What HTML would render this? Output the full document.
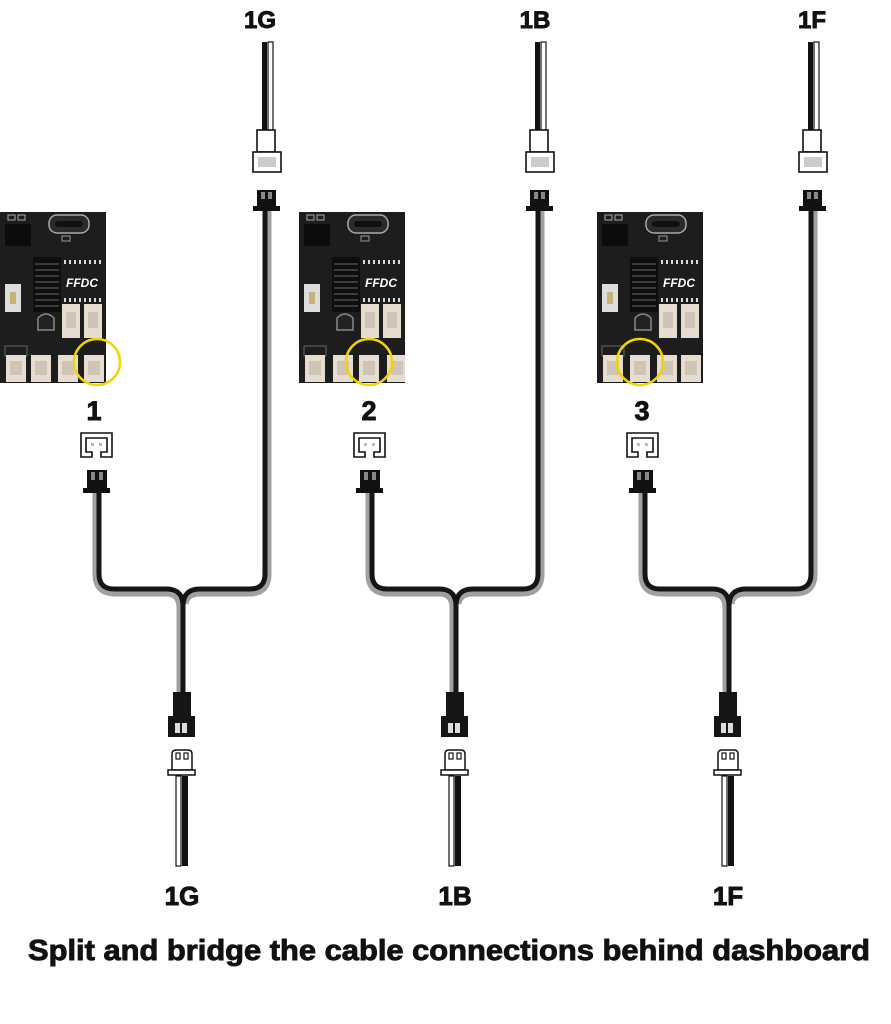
<!DOCTYPE html>
<html><head><meta charset="utf-8"><style>html,body{margin:0;padding:0;background:#fff}svg{display:block}text{stroke:#111;stroke-width:0.9px;paint-order:stroke}</style></head>
<body>
<svg width="891" height="1024" viewBox="0 0 891 1024" xmlns="http://www.w3.org/2000/svg" font-family="'Liberation Sans', sans-serif">
<rect width="891" height="1024" fill="#fff"/>

<g id="g1">
  <text x="260" y="28" font-size="24" font-weight="bold" text-anchor="middle" fill="#111">1G</text>
  <rect x="262" y="42" width="5" height="90" fill="#111"/>
  <rect x="268" y="42" width="5" height="90" fill="#fff" stroke="#111" stroke-width="1.2"/>
  <rect x="257" y="130" width="18" height="22" fill="#fff" stroke="#111" stroke-width="1.6"/>
  <rect x="253" y="152" width="28" height="20" fill="#fff" stroke="#111" stroke-width="1.6"/>
  <rect x="258" y="157" width="18" height="10" fill="#ccc"/>
  <rect x="257" y="190" width="19" height="16" fill="#111"/>
  <rect x="261" y="192" width="4" height="7" fill="#888"/><rect x="268" y="192" width="4" height="7" fill="#888"/>
  <rect x="253" y="206" width="27" height="5" fill="#111"/>
  <text x="94" y="420" font-size="27" font-weight="bold" text-anchor="middle" fill="#111">1</text>
  <path d="M81,457 V433 H112 V457 H101 V452 H107 V438 H86 V452 H92 V457 Z" fill="#fff" stroke="#111" stroke-width="1.6"/>
  <rect x="91" y="443" width="3" height="3" fill="#bbb"/><rect x="99" y="443" width="3" height="3" fill="#bbb"/>
  <rect x="87" y="470" width="20" height="18" fill="#111"/>
  <rect x="91" y="472" width="4" height="8" fill="#888"/><rect x="99" y="472" width="4" height="8" fill="#888"/>
  <rect x="83" y="488" width="27" height="5" fill="#111"/>
  <path d="M95,493 V574 Q95,594 115,594 H166 Q179,594 179,608 V694" fill="none" stroke="#a0a0a0" stroke-width="5"/>
  <path d="M269,211 V574 Q269,594 249,594 H200 Q187,594 186,604" fill="none" stroke="#a0a0a0" stroke-width="5"/>
  <path d="M99,493 V574 Q99,589 114,589 H166 Q183,589 183,606 V694" fill="none" stroke="#151515" stroke-width="5"/>
  <path d="M265,211 V574 Q265,589 250,589 H200 Q183,589 183,606" fill="none" stroke="#151515" stroke-width="5"/>
  <rect x="173" y="692" width="18" height="25" fill="#151515"/>
  <rect x="168" y="716" width="27" height="21" fill="#151515"/>
  <rect x="175" y="723" width="5" height="10" fill="#ddd"/><rect x="182" y="723" width="5" height="10" fill="#ddd"/>
  <path d="M172,770 V754 Q172,750 176,750 H188 Q192,750 192,754 V770 Z" fill="#fff" stroke="#111" stroke-width="1.5"/>
  <rect x="176" y="753" width="4" height="6" fill="#fff" stroke="#111" stroke-width="1.2"/>
  <rect x="184" y="753" width="4" height="6" fill="#fff" stroke="#111" stroke-width="1.2"/>
  <rect x="168" y="770" width="27" height="5" fill="#fff" stroke="#111" stroke-width="1.5"/>
  <rect x="176" y="776" width="5" height="90" fill="#fff" stroke="#111" stroke-width="1.2"/>
  <rect x="182" y="776" width="6" height="90" fill="#111"/>
  <text x="182" y="905" font-size="26" font-weight="bold" text-anchor="middle" fill="#111">1G</text>
</g>

<g transform="translate(273,0)">
  <text x="262" y="28" font-size="24" font-weight="bold" text-anchor="middle" fill="#111">1B</text>
  <rect x="262" y="42" width="5" height="90" fill="#111"/>
  <rect x="268" y="42" width="5" height="90" fill="#fff" stroke="#111" stroke-width="1.2"/>
  <rect x="257" y="130" width="18" height="22" fill="#fff" stroke="#111" stroke-width="1.6"/>
  <rect x="253" y="152" width="28" height="20" fill="#fff" stroke="#111" stroke-width="1.6"/>
  <rect x="258" y="157" width="18" height="10" fill="#ccc"/>
  <rect x="257" y="190" width="19" height="16" fill="#111"/>
  <rect x="261" y="192" width="4" height="7" fill="#888"/><rect x="268" y="192" width="4" height="7" fill="#888"/>
  <rect x="253" y="206" width="27" height="5" fill="#111"/>
  <text x="96" y="420" font-size="27" font-weight="bold" text-anchor="middle" fill="#111">2</text>
  <path d="M81,457 V433 H112 V457 H101 V452 H107 V438 H86 V452 H92 V457 Z" fill="#fff" stroke="#111" stroke-width="1.6"/>
  <rect x="91" y="443" width="3" height="3" fill="#bbb"/><rect x="99" y="443" width="3" height="3" fill="#bbb"/>
  <rect x="87" y="470" width="20" height="18" fill="#111"/>
  <rect x="91" y="472" width="4" height="8" fill="#888"/><rect x="99" y="472" width="4" height="8" fill="#888"/>
  <rect x="83" y="488" width="27" height="5" fill="#111"/>
  <path d="M95,493 V574 Q95,594 115,594 H166 Q179,594 179,608 V694" fill="none" stroke="#a0a0a0" stroke-width="5"/>
  <path d="M269,211 V574 Q269,594 249,594 H200 Q187,594 186,604" fill="none" stroke="#a0a0a0" stroke-width="5"/>
  <path d="M99,493 V574 Q99,589 114,589 H166 Q183,589 183,606 V694" fill="none" stroke="#151515" stroke-width="5"/>
  <path d="M265,211 V574 Q265,589 250,589 H200 Q183,589 183,606" fill="none" stroke="#151515" stroke-width="5"/>
  <rect x="173" y="692" width="18" height="25" fill="#151515"/>
  <rect x="168" y="716" width="27" height="21" fill="#151515"/>
  <rect x="175" y="723" width="5" height="10" fill="#ddd"/><rect x="182" y="723" width="5" height="10" fill="#ddd"/>
  <path d="M172,770 V754 Q172,750 176,750 H188 Q192,750 192,754 V770 Z" fill="#fff" stroke="#111" stroke-width="1.5"/>
  <rect x="176" y="753" width="4" height="6" fill="#fff" stroke="#111" stroke-width="1.2"/>
  <rect x="184" y="753" width="4" height="6" fill="#fff" stroke="#111" stroke-width="1.2"/>
  <rect x="168" y="770" width="27" height="5" fill="#fff" stroke="#111" stroke-width="1.5"/>
  <rect x="176" y="776" width="5" height="90" fill="#fff" stroke="#111" stroke-width="1.2"/>
  <rect x="182" y="776" width="6" height="90" fill="#111"/>
  <text x="182" y="905" font-size="26" font-weight="bold" text-anchor="middle" fill="#111">1B</text>
</g>

<g transform="translate(546,0)">
  <text x="266" y="28" font-size="24" font-weight="bold" text-anchor="middle" fill="#111">1F</text>
  <rect x="262" y="42" width="5" height="90" fill="#111"/>
  <rect x="268" y="42" width="5" height="90" fill="#fff" stroke="#111" stroke-width="1.2"/>
  <rect x="257" y="130" width="18" height="22" fill="#fff" stroke="#111" stroke-width="1.6"/>
  <rect x="253" y="152" width="28" height="20" fill="#fff" stroke="#111" stroke-width="1.6"/>
  <rect x="258" y="157" width="18" height="10" fill="#ccc"/>
  <rect x="257" y="190" width="19" height="16" fill="#111"/>
  <rect x="261" y="192" width="4" height="7" fill="#888"/><rect x="268" y="192" width="4" height="7" fill="#888"/>
  <rect x="253" y="206" width="27" height="5" fill="#111"/>
  <text x="96" y="420" font-size="27" font-weight="bold" text-anchor="middle" fill="#111">3</text>
  <path d="M81,457 V433 H112 V457 H101 V452 H107 V438 H86 V452 H92 V457 Z" fill="#fff" stroke="#111" stroke-width="1.6"/>
  <rect x="91" y="443" width="3" height="3" fill="#bbb"/><rect x="99" y="443" width="3" height="3" fill="#bbb"/>
  <rect x="87" y="470" width="20" height="18" fill="#111"/>
  <rect x="91" y="472" width="4" height="8" fill="#888"/><rect x="99" y="472" width="4" height="8" fill="#888"/>
  <rect x="83" y="488" width="27" height="5" fill="#111"/>
  <path d="M95,493 V574 Q95,594 115,594 H166 Q179,594 179,608 V694" fill="none" stroke="#a0a0a0" stroke-width="5"/>
  <path d="M269,211 V574 Q269,594 249,594 H200 Q187,594 186,604" fill="none" stroke="#a0a0a0" stroke-width="5"/>
  <path d="M99,493 V574 Q99,589 114,589 H166 Q183,589 183,606 V694" fill="none" stroke="#151515" stroke-width="5"/>
  <path d="M265,211 V574 Q265,589 250,589 H200 Q183,589 183,606" fill="none" stroke="#151515" stroke-width="5"/>
  <rect x="173" y="692" width="18" height="25" fill="#151515"/>
  <rect x="168" y="716" width="27" height="21" fill="#151515"/>
  <rect x="175" y="723" width="5" height="10" fill="#ddd"/><rect x="182" y="723" width="5" height="10" fill="#ddd"/>
  <path d="M172,770 V754 Q172,750 176,750 H188 Q192,750 192,754 V770 Z" fill="#fff" stroke="#111" stroke-width="1.5"/>
  <rect x="176" y="753" width="4" height="6" fill="#fff" stroke="#111" stroke-width="1.2"/>
  <rect x="184" y="753" width="4" height="6" fill="#fff" stroke="#111" stroke-width="1.2"/>
  <rect x="168" y="770" width="27" height="5" fill="#fff" stroke="#111" stroke-width="1.5"/>
  <rect x="176" y="776" width="5" height="90" fill="#fff" stroke="#111" stroke-width="1.2"/>
  <rect x="182" y="776" width="6" height="90" fill="#111"/>
  <text x="182" y="905" font-size="26" font-weight="bold" text-anchor="middle" fill="#111">1F</text>
</g>

<g transform="translate(0,212)">
  <rect width="106" height="171" fill="#1d1d1d"/>
  <rect x="49" y="3" width="40" height="18" rx="8" fill="#2b2b2b" stroke="#aaa" stroke-width="1.5"/>
  <rect x="55" y="9" width="28" height="6" rx="3" fill="#111"/>
  <rect x="5" y="12" width="26" height="22" fill="#0c0c0c"/>
  <rect x="8" y="3" width="7" height="5" fill="none" stroke="#aaa"/><rect x="18" y="3" width="7" height="5" fill="none" stroke="#aaa"/>
  <rect x="62" y="24" width="8" height="5" fill="none" stroke="#999"/>
  <rect x="33" y="45" width="28" height="55" fill="#0e0e0e"/>
  <path d="M35,52 H59 M35,58 H59 M35,64 H59 M35,70 H59 M35,76 H59 M35,82 H59 M35,88 H59 M35,94 H59" stroke="#3a3a3a" stroke-width="2"/>
  <path d="M38,118 V106 Q46,98 54,106 V118 Z" fill="#222" stroke="#888" stroke-width="1.5"/>
  <path d="M64,50 H102 M64,88 H102" stroke="#ddd" stroke-width="4" stroke-dasharray="2 3"/>
  <text x="66" y="75" font-size="12" font-weight="bold" font-style="italic" fill="#fff" style="stroke:none">FFDC</text>
  <rect x="5" y="72" width="16" height="28" fill="#ddd"/><rect x="10" y="80" width="6" height="12" fill="#c9b27a"/>
  <rect x="62" y="92" width="18" height="34" fill="#e6ddd0"/><rect x="66" y="100" width="10" height="16" fill="#cfc5b6"/>
  <rect x="84" y="92" width="18" height="34" fill="#e6ddd0"/><rect x="88" y="100" width="10" height="16" fill="#cfc5b6"/>
  <rect x="5" y="134" width="22" height="10" fill="none" stroke="#666"/>
  <rect x="6" y="143" width="20" height="27" fill="#e6ddd0"/><rect x="10" y="149" width="12" height="14" fill="#cfc5b6"/>
  <rect x="31" y="143" width="20" height="27" fill="#e6ddd0"/><rect x="35" y="149" width="12" height="14" fill="#cfc5b6"/>
  <rect x="58" y="143" width="20" height="27" fill="#e6ddd0"/><rect x="62" y="149" width="12" height="14" fill="#cfc5b6"/>
  <rect x="84" y="143" width="20" height="27" fill="#e6ddd0"/><rect x="88" y="149" width="12" height="14" fill="#cfc5b6"/>
</g>
<g transform="translate(299,212)">
  <rect width="106" height="171" fill="#1d1d1d"/>
  <rect x="49" y="3" width="40" height="18" rx="8" fill="#2b2b2b" stroke="#aaa" stroke-width="1.5"/>
  <rect x="55" y="9" width="28" height="6" rx="3" fill="#111"/>
  <rect x="5" y="12" width="26" height="22" fill="#0c0c0c"/>
  <rect x="8" y="3" width="7" height="5" fill="none" stroke="#aaa"/><rect x="18" y="3" width="7" height="5" fill="none" stroke="#aaa"/>
  <rect x="62" y="24" width="8" height="5" fill="none" stroke="#999"/>
  <rect x="33" y="45" width="28" height="55" fill="#0e0e0e"/>
  <path d="M35,52 H59 M35,58 H59 M35,64 H59 M35,70 H59 M35,76 H59 M35,82 H59 M35,88 H59 M35,94 H59" stroke="#3a3a3a" stroke-width="2"/>
  <path d="M38,118 V106 Q46,98 54,106 V118 Z" fill="#222" stroke="#888" stroke-width="1.5"/>
  <path d="M64,50 H102 M64,88 H102" stroke="#ddd" stroke-width="4" stroke-dasharray="2 3"/>
  <text x="66" y="75" font-size="12" font-weight="bold" font-style="italic" fill="#fff" style="stroke:none">FFDC</text>
  <rect x="5" y="72" width="16" height="28" fill="#ddd"/><rect x="10" y="80" width="6" height="12" fill="#c9b27a"/>
  <rect x="62" y="92" width="18" height="34" fill="#e6ddd0"/><rect x="66" y="100" width="10" height="16" fill="#cfc5b6"/>
  <rect x="84" y="92" width="18" height="34" fill="#e6ddd0"/><rect x="88" y="100" width="10" height="16" fill="#cfc5b6"/>
  <rect x="5" y="134" width="22" height="10" fill="none" stroke="#666"/>
  <rect x="6" y="143" width="20" height="27" fill="#e6ddd0"/><rect x="10" y="149" width="12" height="14" fill="#cfc5b6"/>
  <rect x="34" y="143" width="20" height="27" fill="#e6ddd0"/><rect x="38" y="149" width="12" height="14" fill="#cfc5b6"/>
  <rect x="60" y="143" width="20" height="27" fill="#e6ddd0"/><rect x="64" y="149" width="12" height="14" fill="#cfc5b6"/>
  <rect x="88" y="143" width="18" height="27" fill="#e6ddd0"/><rect x="92" y="149" width="12" height="14" fill="#cfc5b6"/>
</g>
<g transform="translate(597,212)">
  <rect width="106" height="171" fill="#1d1d1d"/>
  <rect x="49" y="3" width="40" height="18" rx="8" fill="#2b2b2b" stroke="#aaa" stroke-width="1.5"/>
  <rect x="55" y="9" width="28" height="6" rx="3" fill="#111"/>
  <rect x="5" y="12" width="26" height="22" fill="#0c0c0c"/>
  <rect x="8" y="3" width="7" height="5" fill="none" stroke="#aaa"/><rect x="18" y="3" width="7" height="5" fill="none" stroke="#aaa"/>
  <rect x="62" y="24" width="8" height="5" fill="none" stroke="#999"/>
  <rect x="33" y="45" width="28" height="55" fill="#0e0e0e"/>
  <path d="M35,52 H59 M35,58 H59 M35,64 H59 M35,70 H59 M35,76 H59 M35,82 H59 M35,88 H59 M35,94 H59" stroke="#3a3a3a" stroke-width="2"/>
  <path d="M38,118 V106 Q46,98 54,106 V118 Z" fill="#222" stroke="#888" stroke-width="1.5"/>
  <path d="M64,50 H102 M64,88 H102" stroke="#ddd" stroke-width="4" stroke-dasharray="2 3"/>
  <text x="66" y="75" font-size="12" font-weight="bold" font-style="italic" fill="#fff" style="stroke:none">FFDC</text>
  <rect x="5" y="72" width="16" height="28" fill="#ddd"/><rect x="10" y="80" width="6" height="12" fill="#c9b27a"/>
  <rect x="62" y="92" width="18" height="34" fill="#e6ddd0"/><rect x="66" y="100" width="10" height="16" fill="#cfc5b6"/>
  <rect x="84" y="92" width="18" height="34" fill="#e6ddd0"/><rect x="88" y="100" width="10" height="16" fill="#cfc5b6"/>
  <rect x="5" y="134" width="22" height="10" fill="none" stroke="#666"/>
  <rect x="6" y="143" width="20" height="27" fill="#e6ddd0"/><rect x="10" y="149" width="12" height="14" fill="#cfc5b6"/>
  <rect x="33" y="143" width="20" height="27" fill="#e6ddd0"/><rect x="37" y="149" width="12" height="14" fill="#cfc5b6"/>
  <rect x="60" y="143" width="20" height="27" fill="#e6ddd0"/><rect x="64" y="149" width="12" height="14" fill="#cfc5b6"/>
  <rect x="84" y="143" width="20" height="27" fill="#e6ddd0"/><rect x="88" y="149" width="12" height="14" fill="#cfc5b6"/>
</g>

<circle cx="97" cy="362" r="23" fill="none" stroke="#f2d500" stroke-width="2.5"/>
<circle cx="369" cy="362" r="23" fill="none" stroke="#f2d500" stroke-width="2.5"/>
<circle cx="640" cy="362" r="23" fill="none" stroke="#f2d500" stroke-width="2.5"/>

<text x="28" y="960" font-size="29" font-weight="bold" fill="#111" textLength="842" lengthAdjust="spacingAndGlyphs">Split and bridge the cable connections behind dashboard</text>
</svg>
</body></html>
